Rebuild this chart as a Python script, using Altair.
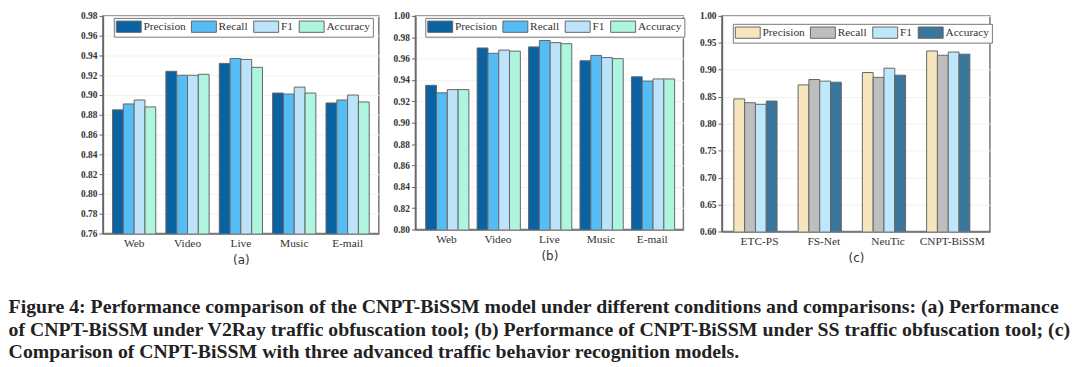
import altair as alt
import pandas as pd

metrics = ["Precision", "Recall", "F1", "Accuracy"]

cats_a = ["Web", "Video", "Live", "Music", "E-mail"]
prec_a = [0.885, 0.924, 0.932, 0.902, 0.892]
rec_a = [0.891, 0.920, 0.937, 0.901, 0.895]
f1_a = [0.895, 0.920, 0.936, 0.908, 0.900]
acc_a = [0.888, 0.921, 0.928, 0.902, 0.893]

cats_b = ["Web", "Video", "Live", "Music", "E-mail"]
prec_b = [0.935, 0.970, 0.971, 0.958, 0.943]
rec_b = [0.928, 0.965, 0.977, 0.963, 0.939]
f1_b = [0.931, 0.968, 0.975, 0.961, 0.941]
acc_b = [0.931, 0.967, 0.974, 0.960, 0.941]

cats_c = ["ETC-PS", "FS-Net", "NeuTic", "CNPT-BiSSM"]
prec_c = [0.846, 0.872, 0.895, 0.935]
rec_c = [0.839, 0.882, 0.886, 0.927]
f1_c = [0.836, 0.879, 0.903, 0.933]
acc_c = [0.842, 0.877, 0.890, 0.929]

ticks_a = [0.76, 0.78, 0.80, 0.82, 0.84, 0.86, 0.88, 0.90, 0.92, 0.94, 0.96, 0.98]
ticks_b = [0.80, 0.82, 0.84, 0.86, 0.88, 0.90, 0.92, 0.94, 0.96, 0.98, 1.00]
ticks_c = [0.60, 0.65, 0.70, 0.75, 0.80, 0.85, 0.90, 0.95, 1.00]

colors_ab = ["#0a62a2", "#55bcf5", "#bde3fa", "#aef5df"]
colors_c = ["#f7e5bd", "#bebebe", "#bde8fc", "#3a759c"]

caption = [
    "Figure 4: Performance comparison of the CNPT-BiSSM model under different conditions and comparisons: (a) Performance",
    "of CNPT-BiSSM under V2Ray traffic obfuscation tool; (b) Performance of CNPT-BiSSM under SS traffic obfuscation tool; (c)",
    "Comparison of CNPT-BiSSM with three advanced traffic behavior recognition models.",
]


def frame(cats, series):
    rows = []
    for m, vals in zip(metrics, series):
        for c, v in zip(cats, vals):
            rows.append({"cat": c, "metric": m, "value": v})
    return pd.DataFrame(rows)


def panel(df, cats, ticks, fmt, colors, label, width, height, pi, po, lx, ly):
    return alt.Chart(df).mark_bar(clip=True, stroke="#666", strokeWidth=1).encode(
        x=alt.X("cat:N", sort=cats,
                scale=alt.Scale(paddingInner=pi, paddingOuter=po),
                axis=alt.Axis(title=label, labelAngle=0, labelFont="Liberation Serif",
                              labelFontSize=11.5, labelColor="#333", labelPadding=4,
                              ticks=False, domainColor="#666", domainWidth=1.5,
                              titleFont="DejaVu Sans", titleFontWeight="normal",
                              titleFontSize=12, titleColor="#333", titlePadding=6)),
        xOffset=alt.XOffset("metric:N", sort=metrics,
                            scale=alt.Scale(paddingInner=0, paddingOuter=0)),
        y=alt.Y("value:Q",
                scale=alt.Scale(domain=[ticks[0], ticks[-1]], nice=False, zero=False),
                axis=alt.Axis(title=None, values=ticks, format=fmt,
                              labelFont="Liberation Serif", labelFontWeight="bold",
                              labelFontSize=9.5, labelColor="#333", labelPadding=2,
                              tickSize=4, tickColor="#666", domainColor="#666",
                              domainWidth=1.5, grid=True, gridColor="#f1f1f1")),
        color=alt.Color("metric:N", sort=metrics,
                        scale=alt.Scale(domain=metrics, range=colors),
                        legend=alt.Legend(title=None, orient="none", legendX=lx, legendY=ly,
                                          direction="horizontal",
                                          symbolType="M-1,-0.95H3.2V0.95H-1Z",
                                          symbolSize=144, symbolStrokeColor="#666",
                                          symbolStrokeWidth=1, symbolOpacity=1,
                                          labelFont="Liberation Serif", labelFontSize=11.5,
                                          labelColor="#333", labelOffset=15,
                                          columnPadding=3, padding=2,
                                          strokeColor="#777", fillColor="white")),
    ).properties(width=width, height=height)


pa = panel(frame(cats_a, [prec_a, rec_a, f1_a, acc_a]), cats_a, ticks_a, ".2f",
           colors_ab, "(a)", 279, 220, 0.19, 0.18, 11, 2)
pb = panel(frame(cats_b, [prec_b, rec_b, f1_b, acc_b]), cats_b, ticks_b, ".2f",
           colors_ab, "(b)", 271, 216, 0.19, 0.2, 10, 2)
pc = panel(frame(cats_c, [prec_c, rec_c, f1_c, acc_c]), cats_c, ticks_c, ".2f",
           colors_c, "(c)", 271, 218, 0.2, 0.185, 11, 8)

chart = alt.hconcat(pa, pb, pc, spacing=12).resolve_scale(color="independent").properties(
    title=alt.TitleParams(text=caption, orient="bottom", anchor="start", frame="bounds",
                          dx=-72, offset=31, font="Liberation Serif", fontWeight="bold",
                          fontSize=20, lineHeight=23, color="#222"),
    padding={"left": 0, "top": 0, "right": 0, "bottom": 0},
).configure_view(stroke="#777", strokeWidth=1.5)

chart.save("out.html", embed_options={"renderer": "svg", "actions": False})
